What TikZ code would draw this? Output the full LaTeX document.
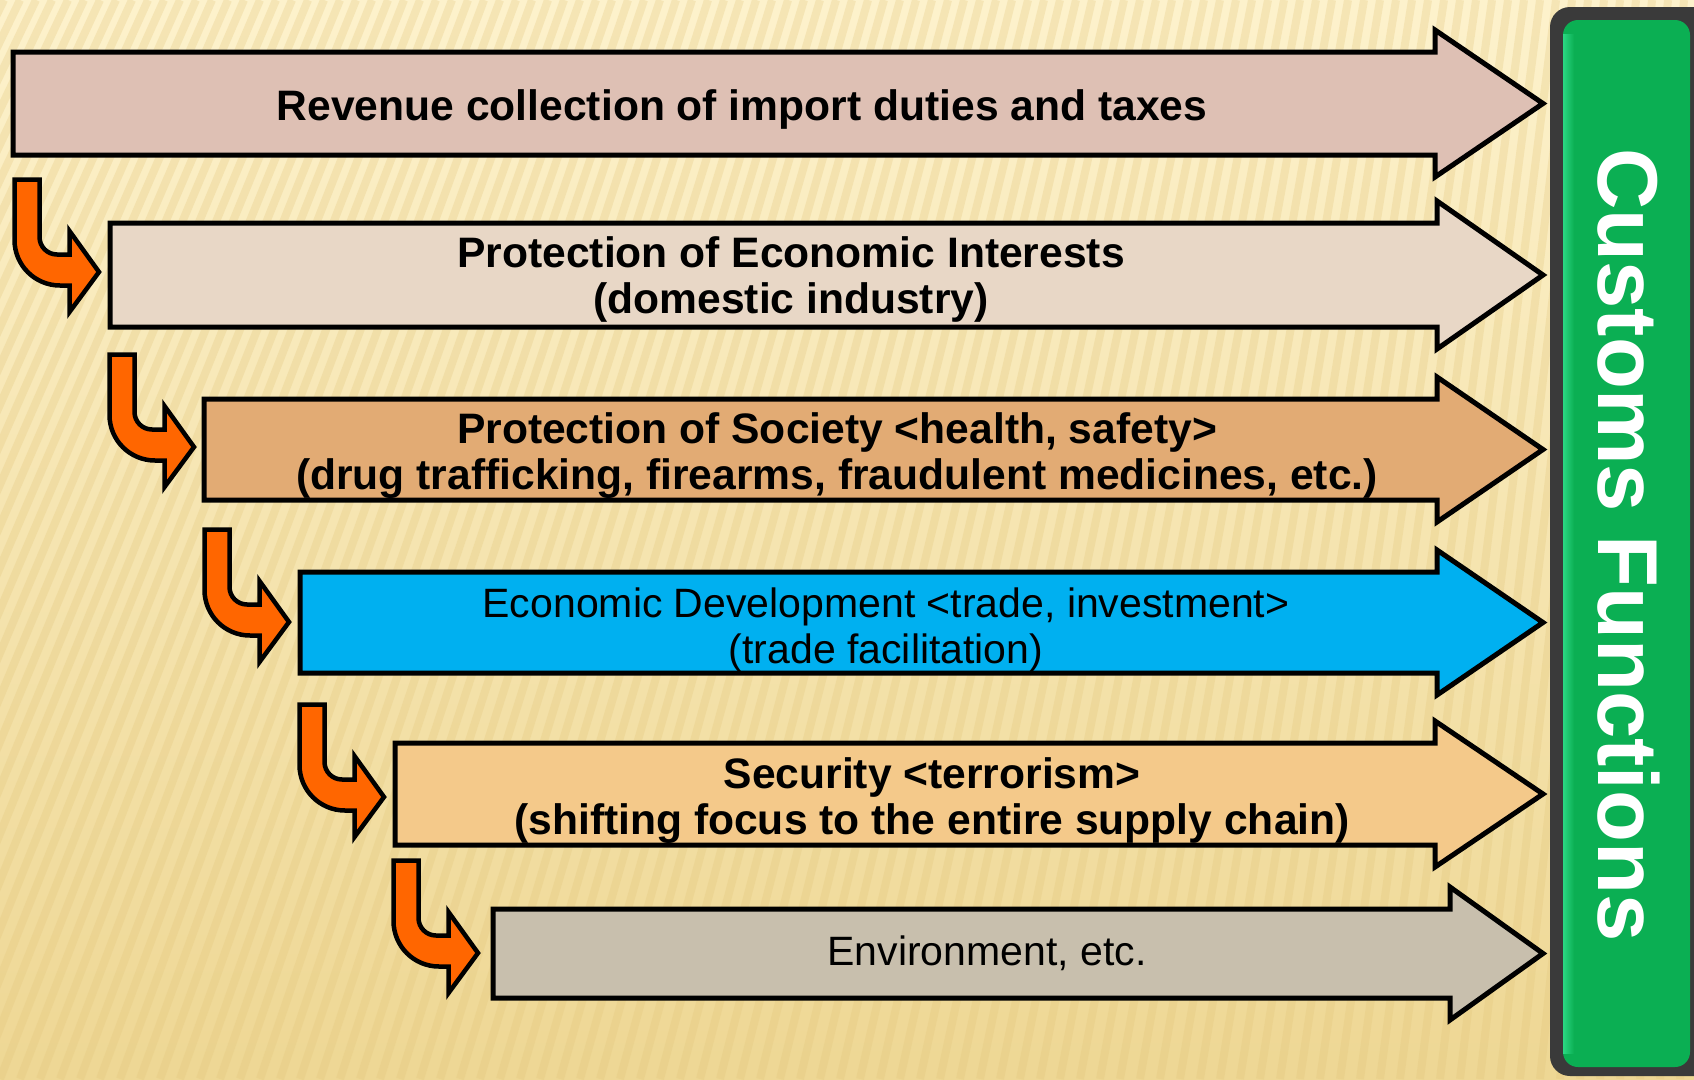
\documentclass[tikz,border=0pt]{standalone}
\usepackage{fontspec}
\setmainfont{Liberation Sans}

\definecolor{bgtop}{HTML}{FDF2CC}
\definecolor{bgbottom}{HTML}{EED794}
\definecolor{bgstripe}{HTML}{E2C57A}
\definecolor{revenuefill}{HTML}{DEC0B4}
\definecolor{economicfill}{HTML}{E8D7C6}
\definecolor{societyfill}{HTML}{E2AB74}
\definecolor{developmentfill}{HTML}{00B0F0}
\definecolor{securityfill}{HTML}{F4C98A}
\definecolor{environmentfill}{HTML}{C8BFAD}
\definecolor{bentorange}{HTML}{FF6600}
\definecolor{barrim}{HTML}{3A3A3A}
\definecolor{bargreen}{HTML}{0BAF53}
\definecolor{barlight}{HTML}{2BD883}

\begin{document}
\begin{tikzpicture}[
        x=1pt,
        y=-1pt,
        line join=miter,
        stripe/.style={
            draw=bgstripe,
            line width=8pt,
            opacity=0.28
        },
        funcbox/.style={
            draw=black,
            line width=5pt
        },
        bent/.style={
            draw=black,
            fill=bentorange,
            line width=4.5pt
        },
        functext/.style={
            align=center,
            inner sep=0pt,
            font=\fontsize{42.6}{46}\selectfont\bfseries
        },
        functextlight/.style={
            functext,
            font=\fontsize{41}{46}\selectfont\mdseries
        },
      ]
        \useasboundingbox (0,0) rectangle (1694,1079);
        % background
        \shade [top color=bgtop, bottom color=bgbottom] (0,0) rectangle (1694,1079);
        \begin{scope}
            \clip (0,0) rectangle (1694,1079);
            \foreach \s [evaluate=\s as \top using 0.8*\s+420] in {-520,-500,...,1700}
                \draw [stripe] (\s,1079) -- (\top,0);
        \end{scope}
        % customs bar
        \fill [barrim, rounded corners=20pt] (1550,7) rectangle (1720,1076);
        \fill [bargreen, rounded corners=15pt] (1563,20) rectangle (1690,1067);
        \shade [left color=barlight, right color=bargreen] (1563,34) rectangle (1574,1053);
        \node [rotate=-90, text=white, inner sep=0pt, font=\fontsize{85}{85}\selectfont\bfseries] (customs) at (1629,545) {Customs Functions};
        % function arrows
        \foreach \l/\t/\b/\h/\c in {13/52/155/1435/revenuefill, 110/223/327/1437/economicfill,
                204/399/500/1437/societyfill, 300/572/673/1437/developmentfill,
                395/743/845/1435/securityfill, 493/909/998/1450/environmentfill}
            \draw [funcbox, fill=\c] (\l,\t) -- (\h,\t) -- (\h,\t-22) -- (1543,{(\t+\b)/2})
                -- (\h,\b+22) -- (\h,\b) -- (\l,\b) -- cycle;
        \node [functext] (revenue) at (742,109.5) {Revenue collection of import duties and taxes};
        \node [functext] (economic) at (791,279.5) {Protection of Economic Interests\\(domestic industry)};
        \node [functext] (society) at (837,455.5) {Protection of Society <health, safety>\\(drug trafficking, firearms, fraudulent medicines, etc.)};
        \node [functextlight] (development) at (886,629.5) {Economic Development <trade, investment>\\(trade facilitation)};
        \node [functext] (security) at (932,801) {Security <terrorism>\\(shifting focus to the entire supply chain)};
        \node [functextlight] (environment) at (987,953) {Environment, etc.};
        % bent arrows
        \foreach \x/\y in {103/272, 198/447, 293/622, 388/797, 482/953}
            \draw [bent, shift={(\x,\y)}] (-4,0) -- (-33.5,-41) -- (-33.5,-17.5) -- (-46,-17.5)
                arc [start angle=90, end angle=180, radius=17.5] -- (-63.5,-92.5) -- (-88.5,-92.5)
                -- (-88.5,-32) arc [start angle=180, end angle=90, radius=45.5] -- (-33.5,13.5)
                -- (-33.5,40) -- cycle;
      \end{tikzpicture}
\end{document}
